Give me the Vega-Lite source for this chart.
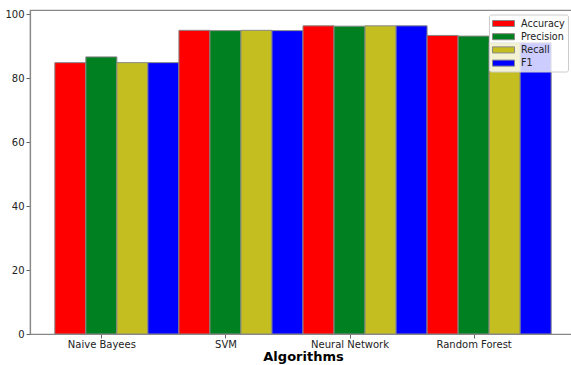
{
  "$schema": "https://vega.github.io/schema/vega-lite/v6.json",
  "width": 546,
  "height": 324,
  "autosize": "none",
  "padding": {"left": 30, "top": 10, "right": 0, "bottom": 31},
  "background": "white",
  "config": {
    "view": {"stroke": "#888888", "strokeWidth": 1.2},
    "font": "DejaVu Sans"
  },
  "data": {
    "values": [
      {"algorithm": "Naive Bayees", "metric": "Accuracy", "value": 84.8},
      {"algorithm": "Naive Bayees", "metric": "Precision", "value": 86.6},
      {"algorithm": "Naive Bayees", "metric": "Recall", "value": 84.8},
      {"algorithm": "Naive Bayees", "metric": "F1", "value": 84.8},
      {"algorithm": "SVM", "metric": "Accuracy", "value": 94.9},
      {"algorithm": "SVM", "metric": "Precision", "value": 94.8},
      {"algorithm": "SVM", "metric": "Recall", "value": 94.9},
      {"algorithm": "SVM", "metric": "F1", "value": 94.8},
      {"algorithm": "Neural Network", "metric": "Accuracy", "value": 96.3},
      {"algorithm": "Neural Network", "metric": "Precision", "value": 96.2},
      {"algorithm": "Neural Network", "metric": "Recall", "value": 96.3},
      {"algorithm": "Neural Network", "metric": "F1", "value": 96.3},
      {"algorithm": "Random Forest", "metric": "Accuracy", "value": 93.3},
      {"algorithm": "Random Forest", "metric": "Precision", "value": 93.1},
      {"algorithm": "Random Forest", "metric": "Recall", "value": 91.0},
      {"algorithm": "Random Forest", "metric": "F1", "value": 91.0}
    ]
  },
  "mark": {"type": "bar", "stroke": "#888888", "strokeWidth": 1},
  "encoding": {
    "x": {
      "field": "algorithm",
      "type": "nominal",
      "sort": ["Naive Bayees", "SVM", "Neural Network", "Random Forest"],
      "scale": {"paddingInner": 0, "paddingOuter": 0.2},
      "axis": {
        "title": "Algorithms",
        "titleFont": "DejaVu Sans",
        "titleFontWeight": "bold",
        "titleFontSize": 13,
        "titleColor": "#000000",
        "titleY": 26,
        "titleBaseline": "alphabetic",
        "labelAngle": 0,
        "labelFont": "DejaVu Sans",
        "labelFontSize": 10,
        "labelColor": "#222222",
        "labelPadding": 1,
        "tickOffset": -15.5,
        "tickSize": 4,
        "tickColor": "#666666",
        "domainColor": "#888888",
        "domainWidth": 1.2,
        "grid": false
      }
    },
    "xOffset": {
      "field": "metric",
      "type": "nominal",
      "sort": ["Accuracy", "Precision", "Recall", "F1"],
      "scale": {"paddingInner": 0, "paddingOuter": 0}
    },
    "y": {
      "field": "value",
      "type": "quantitative",
      "scale": {"domain": [0, 101.25], "nice": false},
      "axis": {
        "title": null,
        "values": [0, 20, 40, 60, 80, 100],
        "labelFont": "DejaVu Sans",
        "labelFontSize": 10,
        "labelColor": "#222222",
        "labelPadding": 2,
        "tickSize": 4,
        "tickColor": "#666666",
        "domainColor": "#888888",
        "domainWidth": 1.2,
        "grid": false
      }
    },
    "color": {
      "field": "metric",
      "type": "nominal",
      "scale": {
        "domain": ["Accuracy", "Precision", "Recall", "F1"],
        "range": ["#ff0000", "#008020", "#c4be20", "#0000ff"]
      },
      "legend": {
        "title": null,
        "orient": "none",
        "legendX": 459,
        "legendY": 4.5,
        "fillColor": "rgba(255,255,255,0.8)",
        "strokeColor": "#cccccc",
        "cornerRadius": 2,
        "padding": 3,
        "labelFont": "DejaVu Sans",
        "labelFontSize": 9.6,
        "labelColor": "#222222",
        "symbolType": "M-1,-0.55H3V0.55H-1Z",
        "symbolSize": 121,
        "symbolStrokeColor": "#888888",
        "symbolStrokeWidth": 1,
        "symbolOpacity": 1,
        "rowPadding": 1.2,
        "labelOffset": 17
      }
    }
  }
}
